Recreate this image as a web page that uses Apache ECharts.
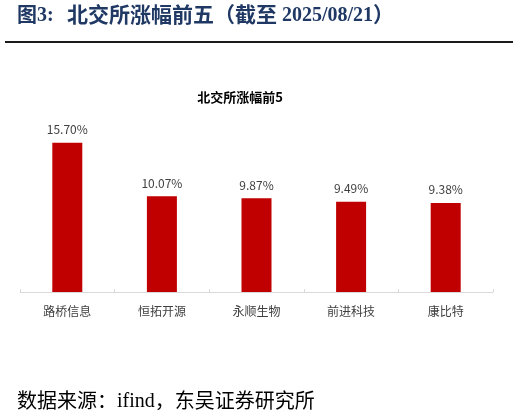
<!DOCTYPE html>
<html><head><meta charset="utf-8">
<script src="https://cdn.jsdelivr.net/npm/echarts@6/dist/echarts.min.js"></script>
<style>html,body{margin:0;padding:0;background:#fff;}#c{width:519px;height:416px;}</style>
</head><body><div id="c"></div>
<script>
const categories = ['路桥信息', '恒拓开源', '永顺生物', '前进科技', '康比特'];
const gains = [15.70, 10.07, 9.87, 9.49, 9.38];
const chartTitle = '北交所涨幅前5';

const CN = 'Noto Sans CJK SC';
const SERIF = 'Liberation Serif';
const navy = '#1f3864';

const chart = echarts.init(document.getElementById('c'), null, {renderer: 'canvas'});
chart.setOption({
  backgroundColor: '#fff',
  animation: false,
  title: {
    text: chartTitle, left: 235, textAlign: 'center', top: 86,
    textStyle: {fontFamily: CN, fontSize: 13, fontWeight: 'bold', color: '#000'}
  },
  grid: {left: 20, right: 26, top: 140, bottom: 124},
  xAxis: {
    type: 'category', data: categories,
    axisLine: {lineStyle: {color: '#d9d9d9', width: 1}},
    axisTick: {show: true, inside: true, length: 3, lineStyle: {color: '#d9d9d9'}},
    axisLabel: {margin: 13, fontFamily: CN, fontSize: 12, color: '#404040'}
  },
  yAxis: {type: 'value', min: 0, max: 16, show: false, splitLine: {show: false}},
  series: [{
    type: 'bar', data: gains, barWidth: 30,
    itemStyle: {color: '#c00000'},
    label: {show: true, position: 'top', distance: 7, formatter: p => p.value.toFixed(2) + '%',
      fontFamily: CN, fontSize: 12, color: '#404040'}
  }],
  graphic: [
    {type: 'text', left: 17, top: 4, style: {
      text: '{cn|图}{en|3:}', fill: navy,
      rich: {cn: {fontFamily: CN, fontSize: 20, fontWeight: 'bold', fill: navy},
             en: {fontFamily: SERIF, fontSize: 20, fontWeight: 'bold', fill: navy, padding: [3, 0, 0, 0]}}}},
    {type: 'text', left: 67, top: 4, style: {
      text: '{cn|北交所涨幅前五（截至}{en| 2025/08/21}{cn|）}', fill: navy,
      rich: {cn: {fontFamily: CN, fontSize: 21, fontWeight: 'bold', fill: navy},
             en: {fontFamily: SERIF, fontSize: 20, fontWeight: 'bold', fill: navy, padding: [3, 0, 0, 0]}}}},
    {type: 'rect', shape: {x: 5, y: 41, width: 508, height: 2}, style: {fill: '#1a1a1a'}},
    {type: 'text', left: 17, top: 390, style: {
      text: '{cn|数据来源：}{en|ifind}{cn|，东吴证券研究所}', fill: '#000',
      rich: {cn: {fontFamily: CN, fontSize: 20, fill: '#000'},
             en: {fontFamily: SERIF, fontSize: 20, fill: '#000', padding: [4, 0, 0, 0]}}}}
  ]
});
</script></body></html>
